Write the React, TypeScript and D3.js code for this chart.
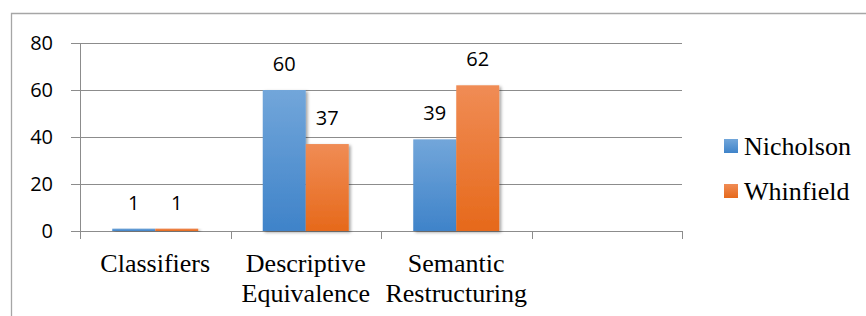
import React from "react";
import * as d3 from "d3";

const categories = [["Classifiers"], ["Descriptive", "Equivalence"], ["Semantic", "Restructuring"], [""]];
const seriesNames = ["Nicholson", "Whinfield"];
const nicholson = [1, 60, 39, null];
const whinfield = [1, 37, 62, null];
const yTicks = [0, 20, 40, 60, 80];

const W = 866, H = 316;
const plot = { left: 80, right: 682, top: 43, bottom: 231 };

export default function App() {
  const x = d3.scaleBand<number>().domain(d3.range(categories.length)).range([plot.left, plot.right]);
  const inner = d3.scaleBand<number>().domain([0, 1]).range([0, x.bandwidth()]).paddingInner(0).paddingOuter(0.75);
  const y = d3.scaleLinear().domain([0, 80]).range([plot.bottom, plot.top]);
  const series = [nicholson, whinfield];
  const grads = ["gBlue", "gOrange"];
  const serif = "'Liberation Serif', 'Times New Roman', serif";
  const sans = "'Open Sans', 'Noto Sans', sans-serif";
  const boundaries = d3.range(categories.length + 1).map((i) => plot.left + i * x.step());
  return (
    <svg width={W} height={H} style={{ position: "absolute", left: 0, top: 0, background: "#fff" }}>
      <defs>
        <linearGradient id="gBlue" x1="0" y1="0" x2="0" y2="1">
          <stop offset="0" stopColor="#72a6da" />
          <stop offset="1" stopColor="#3f83c9" />
        </linearGradient>
        <linearGradient id="gOrange" x1="0" y1="0" x2="0" y2="1">
          <stop offset="0" stopColor="#f08c55" />
          <stop offset="1" stopColor="#e6691b" />
        </linearGradient>
        <filter id="shadow" x="-20%" y="-20%" width="150%" height="150%">
          <feDropShadow dx="2" dy="1.5" stdDeviation="1.8" floodColor="#000" floodOpacity="0.35" />
        </filter>
      </defs>
      {/* outer border */}
      <path d={`M11.5,${H} V13.5 H${W}`} fill="none" stroke="#a6a6a6" strokeWidth={1.3} />
      {/* gridlines */}
      {yTicks.map((t) => (
        <line key={t} x1={plot.left - 9} x2={plot.right} y1={Math.round(y(t)) + 0.5} y2={Math.round(y(t)) + 0.5} stroke="#8c8c8c" strokeWidth={1} />
      ))}
      {/* y axis */}
      <line x1={plot.left + 0.5} x2={plot.left + 0.5} y1={plot.top} y2={plot.bottom + 8} stroke="#8c8c8c" />
      {boundaries.map((bx, i) => (
        <line key={i} x1={Math.round(bx) + 0.5} x2={Math.round(bx) + 0.5} y1={plot.bottom} y2={plot.bottom + 8} stroke="#8c8c8c" />
      ))}
      {yTicks.map((t) => (
        <text key={t} x={53} y={y(t)} dy="0.36em" textAnchor="end" fontFamily={sans} fontSize={20} fill="#000">
          {t}
        </text>
      ))}
      {/* bars */}
      {series.map((vals, s) =>
        vals.map((v, i) =>
          v == null ? null : (
            <g key={`${s}-${i}`}>
              <rect
                x={(x(i) as number) + (inner(s) as number)}
                y={y(v)}
                width={inner.bandwidth()}
                height={y(0) - y(v)}
                fill={`url(#${grads[s]})`}
                filter="url(#shadow)"
              />
              <text
                x={(x(i) as number) + (inner(s) as number) + inner.bandwidth() / 2}
                y={y(v) - 19}
                textAnchor="middle"
                fontFamily={sans}
                fontSize={20}
                fill="#000"
              >
                {v}
              </text>
            </g>
          )
        )
      )}
      {/* category labels */}
      {categories.map((lines, i) => (
        <text key={i} x={(x(i) as number) + x.bandwidth() / 2} y={272} textAnchor="middle" fontFamily={serif} fontSize={26} fill="#000">
          {lines.map((l, j) => (
            <tspan key={j} x={(x(i) as number) + x.bandwidth() / 2} dy={j === 0 ? 0 : 30}>
              {l}
            </tspan>
          ))}
        </text>
      ))}
      {/* legend */}
      {seriesNames.map((n, s) => (
        <g key={n} transform={`translate(724, ${139 + s * 45})`}>
          <rect x={0} y={0} width={14} height={14} fill={`url(#${grads[s]})`} />
          <text x={20} y={16} fontFamily={serif} fontSize={26} fill="#000">
            {n}
          </text>
        </g>
      ))}
    </svg>
  );
}
